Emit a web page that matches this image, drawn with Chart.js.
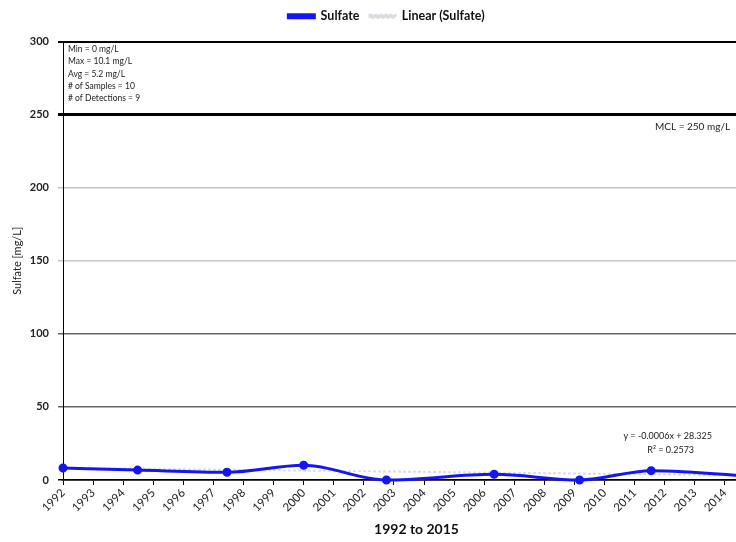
<!DOCTYPE html>
<html>
<head>
<meta charset="utf-8">
<script src="https://cdn.jsdelivr.net/npm/chart.js@4.4.1/dist/chart.umd.min.js"></script>
<style>
    html, body { margin: 0; padding: 0; background: #fff; overflow: hidden; }
    #wrap { width: 776px; height: 542px; }
</style>
</head>
<body>
<div id="wrap"><canvas id="sulfateChart"></canvas></div>
<script>
// =========================
// Data
// =========================

const sampleYears = [1992.0, 1994.48, 1997.45, 2000.0, 2002.75, 2006.33, 2009.17, 2011.55, 2015.3];
const sulfateValues = [8.2, 6.8, 5.3, 10.1, 0, 3.9, 0, 6.4, 2.0];

// linear trend end points
const trendYears = [1992.0, 2015.5];
const trendValues = [8.2, 3.0];

const xTickYears = [1992, 1993, 1994, 1995, 1996, 1997, 1998, 1999, 2000, 2001, 2002, 2003,
    2004, 2005, 2006, 2007, 2008, 2009, 2010, 2011, 2012, 2013, 2014];
const yTicks = [0, 50, 100, 150, 200, 250, 300];
const mclValue = 250;

const statsLines = [
    'Min = 0 mg/L',
    'Max = 10.1 mg/L',
    'Avg = 5.2 mg/L',
    '# of Samples = 10',
    '# of Detections = 9'
];
const equationLines = ['y = -0.0006x + 28.325', 'R\u00b2 = 0.2573'];
const mclLabel = 'MCL = 250 mg/L';


// =========================
// Text annotations
// =========================

const notesPlugin = {
    id: 'notes',
    beforeInit(chart) {
        // extra room under the legend
        const fit = chart.legend.fit;
        chart.legend.fit = function () {
            fit.bind(this)();
            this.height += 9;
        };
    },
    afterDatasetsDraw(chart) {
        const ctx = chart.ctx;
        const x = chart.scales.x;
        const y = chart.scales.y;
        const area = chart.chartArea;
        ctx.save();
        ctx.fillStyle = '#222';
        ctx.textBaseline = 'middle';

        // stats box
        ctx.font = '8.5px Lato';
        ctx.textAlign = 'left';
        statsLines.forEach((t, i) => {
            ctx.fillText(t, area.left + 5, area.top + 8 + i * 12.2);
        });

        // MCL label
        ctx.font = '10px Lato';
        ctx.fillText(mclLabel, 655, y.getPixelForValue(mclValue) + 12);

        // trend equation
        ctx.font = '9px Lato';
        ctx.textAlign = 'center';
        ctx.fillText(equationLines[0], x.getPixelForValue(2012.1), y.getPixelForValue(30));
        ctx.fillText(equationLines[1], x.getPixelForValue(2012.2), y.getPixelForValue(20.5));
        ctx.restore();
    }
};


// =========================
// Sulfate Chart
// =========================

const gridColor = (v) => {
    if (v === 300 || v === 250 || v === 0) return '#000';
    if (v === 50 || v === 100) return '#666';
    return '#c4c4c4';
};

const sulfateCtx = document.getElementById('sulfateChart');

new Chart(sulfateCtx, {
    type: 'line',
    data: {
        datasets: [{
            label: 'Sulfate',
            data: sampleYears.map((yr, i) => ({ x: yr, y: sulfateValues[i] })),
            borderColor: '#1414f5',
            backgroundColor: '#1414f5',
            borderWidth: 3,
            pointRadius: 3,
            pointHoverRadius: 3,
            cubicInterpolationMode: 'monotone',
            clip: 8
        }, {
            label: 'Linear (Sulfate)',
            data: trendYears.map((yr, i) => ({ x: yr, y: trendValues[i] })),
            borderColor: '#dcdce8',
            backgroundColor: '#dcdcdc',
            borderWidth: 2,
            borderDash: [3, 2],
            pointRadius: 0
        }]
    },
    options: {
        responsive: true,
        maintainAspectRatio: false,
        animation: false,
        layout: {
            padding: { left: 0, right: 3, top: 0, bottom: 2 }
        },
        plugins: {
            legend: {
                position: 'top',
                labels: {
                    boxWidth: 26,
                    boxHeight: 3,
                    padding: 10,
                    color: '#111',
                    font: { family: 'Lato', size: 12.5, weight: 'bold' }
                }
            },
            tooltip: { enabled: false }
        },
        scales: {
            x: {
                type: 'linear',
                min: 1992,
                max: 2015.5,
                afterFit: (s) => { s.height = 60; },
                afterBuildTicks: (s) => {
                    s.ticks = xTickYears.map((v) => ({ value: v }));
                },
                border: { color: '#000', width: 1.5 },
                grid: {
                    drawOnChartArea: false,
                    drawTicks: true,
                    tickLength: 5,
                    color: '#000'
                },
                ticks: {
                    autoSkip: false,
                    minRotation: 45,
                    maxRotation: 45,
                    padding: 1,
                    color: '#222',
                    font: { family: 'Lato', size: 11.5 },
                    callback: (v) => String(v)
                },
                title: {
                    display: true,
                    text: '1992 to 2015',
                    color: '#111',
                    padding: { top: 0, bottom: 2 },
                    font: { family: 'Lato', size: 14, weight: 'bold' }
                }
            },
            y: {
                min: 0,
                max: 300,
                afterFit: (s) => { s.width = 63; },
                afterBuildTicks: (s) => {
                    s.ticks = yTicks.map((v) => ({ value: v }));
                },
                border: { color: '#000', width: 1 },
                grid: {
                    color: (c) => gridColor(c.tick.value),
                    lineWidth: (c) => (c.tick.value === 250 ? 3 : c.tick.value === 300 ? 2 : 1.5),
                    tickLength: 5
                },
                ticks: {
                    padding: 9,
                    color: '#222',
                    font: { family: 'Lato', size: 11, weight: 'bold' }
                },
                title: {
                    display: true,
                    text: 'Sulfate [mg/L]',
                    color: '#222',
                    padding: { top: 11, bottom: 0 },
                    font: { family: 'Lato', size: 11 }
                }
            }
        }
    },
    plugins: [notesPlugin]
});
</script>
</body>
</html>
